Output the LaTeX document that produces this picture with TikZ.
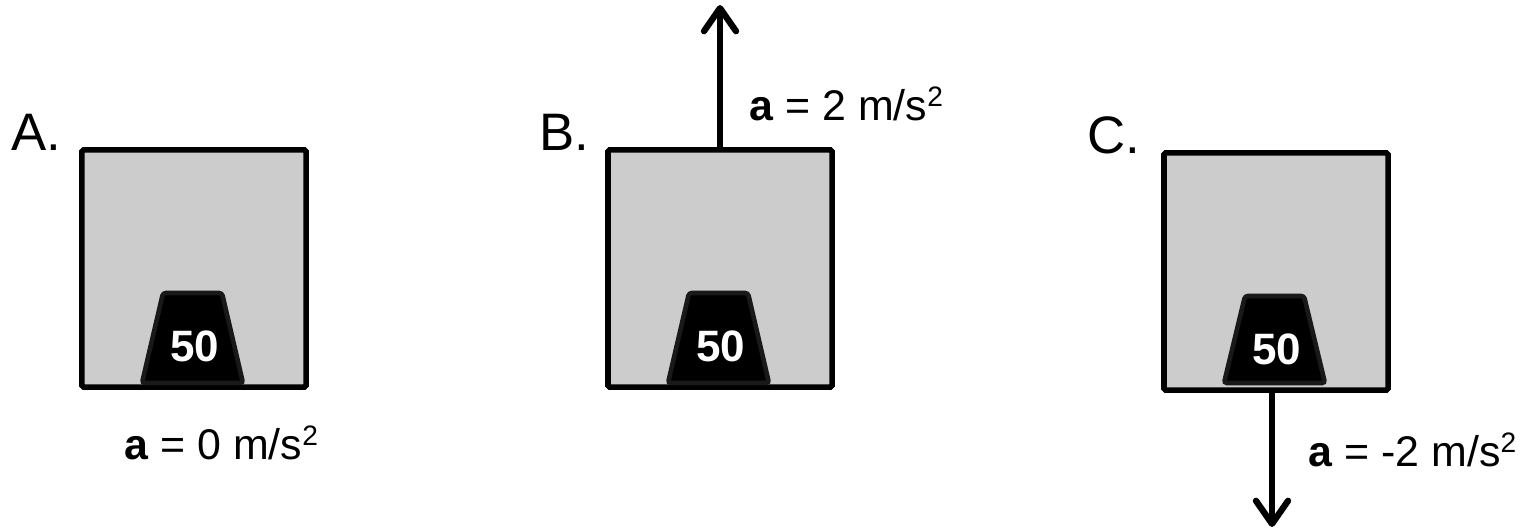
\documentclass[tikz,border=0pt]{standalone}
\usepackage{fontspec}
\setmainfont{Liberation Sans}
\usepackage{tikz}
\usetikzlibrary{arrows.meta}
\newcommand{\sqd}{\raisebox{0.62ex}{\fontsize{8}{8}\selectfont 2}}
\tikzset{
  cage/.style={draw=black,fill=black!20,line width=1.6pt,rounded corners=0.5pt,minimum width=2.24cm,minimum height=2.37cm,inner sep=0pt},
  weight/.style={draw=black!90,fill=black,line width=1.3pt,rounded corners=0.8pt},
  weightnum/.style={text=white,font=\fontsize{12.5}{14}\selectfont\bfseries},
  panel/.style={font=\fontsize{15}{17}\selectfont,anchor=west},
  accel/.style={font=\fontsize{12.2}{14}\selectfont,anchor=west},
  pull/.style={line width=1.8pt,-{Straight Barb[round,length=2.3mm,width=3.2mm]}}
}
\begin{document}
\begin{tikzpicture}[x=0.01cm,y=0.01cm]
\useasboundingbox (0,0) rectangle (1524,530);
% A
\node[cage] (boxA) at (194,261.5) {};
\draw[weight] (142,147)--(163,237)--(222,237)--(243,147)--cycle;
\node[weightnum] (numA) at (194.5,184) {50};
\node[panel] (labelA) at (-1,398) {A.};
\node[accel] (accA) at (112,87) {\textbf{a} = 0 m/s\sqd};
% B
\node[cage] (boxB) at (720,261.5) {};
\draw[weight] (668,147)--(689,237)--(748,237)--(769,147)--cycle;
\node[weightnum] (numB) at (720.5,184) {50};
\node[panel] (labelB) at (527,398) {B.};
\coordinate (tipB) at (720,525);
\draw[pull] (boxB.north) -- (tipB);
\node[accel] (accB) at (737,426) {\textbf{a} = 2 m/s\sqd};
% C
\node[cage] (boxC) at (1276,258.5) {};
\draw[weight] (1224,147)--(1245,234)--(1304,234)--(1325,147)--cycle;
\node[weightnum] (numC) at (1276.5,181) {50};
\node[panel] (labelC) at (1075,395) {C.};
\coordinate (tipC) at (1272,3);
\draw[pull] (boxC.south -| tipC) -- (tipC);
\node[accel] (accC) at (1296,80) {\textbf{a} = -2 m/s\sqd};
\end{tikzpicture}
\end{document}
